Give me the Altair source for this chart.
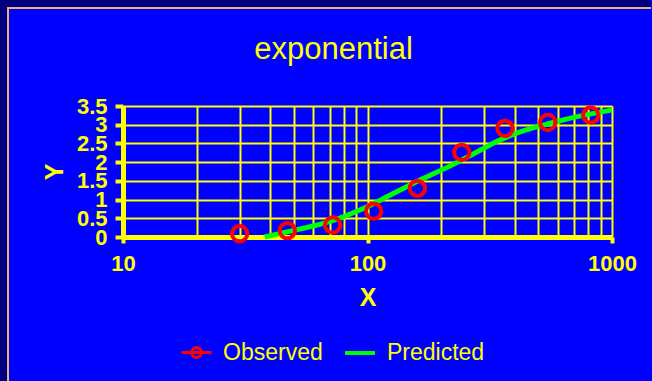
import altair as alt
import pandas as pd

# Observed concentrations (x) and responses (y)
obs_x = [30, 47, 72, 106, 160, 243, 365, 546, 818]
obs_y = [0.09, 0.17, 0.32, 0.69, 1.30, 2.26, 2.90, 3.06, 3.26]

# Fitted exponential curve, sampled along x
fit_x = [38, 51, 70, 93, 124, 164, 218, 289, 348, 421, 558, 761, 1000]
fit_y = [0.0, 0.19, 0.41, 0.72, 1.12, 1.52, 1.90, 2.32, 2.59, 2.81, 3.04, 3.25, 3.39]

# Axis ticks / grid positions
x_major = [10, 100, 1000]
x_grid = [10, 20, 30, 40, 50, 60, 70, 80, 90,
          100, 200, 300, 400, 500, 600, 700, 800, 900, 1000]
y_ticks = [0, 0.5, 1, 1.5, 2, 2.5, 3, 3.5]

YELLOW = "#ffff00"
BLUE = "#0000ff"
NAVY = "#000080"
EDGE = "#f0b46c"
FONT = "Liberation Sans"

obs = pd.DataFrame({"x": obs_x, "y": obs_y, "series": "Observed"})
fit = pd.DataFrame({"x": fit_x, "y": fit_y, "series": "Predicted"})

major_test = f"indexof({x_major}, datum.value) >= 0"

x_enc = alt.X(
    "x:Q",
    title="X",
    scale=alt.Scale(type="log", domain=[10, 1000], nice=False),
    axis=alt.Axis(
        values=x_grid,
        labelExpr=f"{major_test} ? format(datum.value, 'd') : ''",
        tickOpacity={"condition": {"test": major_test, "value": 1}, "value": 0},
        tickSize=6,
        labelPadding=10,
        titlePadding=11,
        labelFlush=False,
        labelOverlap=False,
    ),
)
y_enc = alt.Y(
    "y:Q",
    title="Y",
    scale=alt.Scale(domain=[0, 3.5], nice=False),
    axis=alt.Axis(
        values=y_ticks,
        format=".1~f",
        tickSize=8,
        labelPadding=8,
        titlePadding=9,
        labelOverlap=False,
        labelFlush=False,
    ),
)

one = alt.Data(values=[{}])


def band(color, x0, x1, y0, y1):
    """A plain filled strip, placed in pixels relative to the plot origin."""
    return alt.Chart(one).mark_rect(fill=color, strokeWidth=0).encode(
        x=alt.value(x0), x2=alt.value(x1), y=alt.value(y0), y2=alt.value(y1)
    )


# Window frame along the top-left: dark strip with a light edge
frame = [
    band(NAVY, -123, -116, -106, 275),
    band(NAVY, -123, 528, -106, -99),
    band(EDGE, -116, -114, -99, 275),
    band(EDGE, -116, 528, -99, -97),
]

line = alt.Chart(fit).mark_line(strokeWidth=5, interpolate="monotone").encode(
    x=x_enc,
    y=y_enc,
    color=alt.Color(
        "series:N",
        scale=alt.Scale(domain=["Predicted"], range=["#00ff00"]),
        legend=alt.Legend(
            orient="none", legendX=220, legendY=230, title=None,
            symbolType="stroke", symbolSize=900, symbolStrokeWidth=4,
            labelOffset=10, padding=0,
        ),
    ),
)

ring = "M-1,0H1M0.33,0A0.33,0.33,0,1,1,-0.33,0A0.33,0.33,0,1,1,0.33,0Z"
points = alt.Chart(obs).mark_point(
    filled=False, size=235, strokeWidth=4, shape="circle", opacity=1
).encode(
    x=x_enc,
    y=y_enc,
    color=alt.Color(
        "series:N",
        scale=alt.Scale(domain=["Observed"], range=["#ff0000"]),
        legend=alt.Legend(
            orient="none", legendX=57, legendY=230, title=None,
            symbolType=ring, symbolSize=900, symbolStrokeWidth=3,
            labelOffset=10, padding=0,
        ),
    ),
)

chart = (
    alt.layer(*frame, line, points)
    .resolve_scale(color="independent")
    .properties(
        width=489,
        height=131,
        autosize=alt.AutoSizeParams(type="none"),
        padding={"left": 123, "top": 106, "right": 40, "bottom": 144},
        background=BLUE,
        title=alt.TitleParams(
            "exponential", fontSize=31, font=FONT, fontWeight="normal",
            color=YELLOW, anchor="middle", frame="group", dx=-34,
            offset=0, dy=66,
        ),
    )
    .configure_view(stroke=None, fill=BLUE)
    .configure_axis(
        domainColor=YELLOW, domainWidth=5,
        tickColor=YELLOW, tickWidth=4,
        gridColor=YELLOW, gridWidth=2, gridOpacity=1, grid=True,
        labelColor=YELLOW, labelFont=FONT, labelFontWeight="bold", labelFontSize=22,
        titleColor=YELLOW, titleFont=FONT, titleFontWeight="bold", titleFontSize=25,
    )
    .configure_legend(
        labelColor=YELLOW, labelFont=FONT, labelFontSize=23, labelFontWeight="normal",
    )
)

chart.save("out.html", embed_options={"renderer": "svg", "actions": False})
